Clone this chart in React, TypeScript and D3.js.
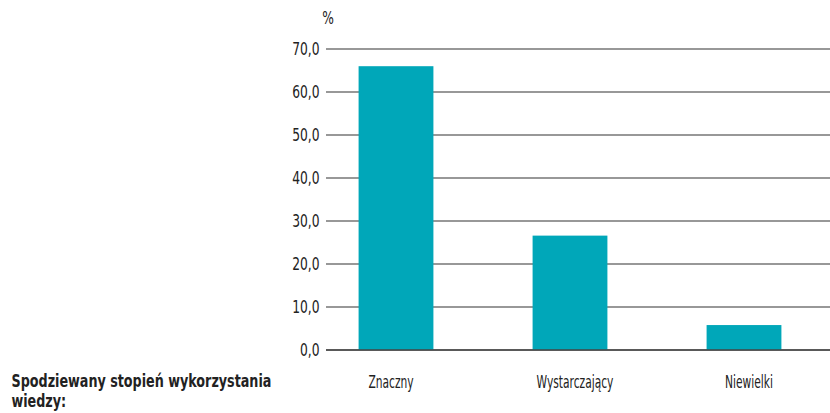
import React from "react";
import * as d3 from "d3";

const categories = ["Znaczny", "Wystarczający", "Niewielki"];
const values = [66.0, 26.6, 5.8];
const yTicks = [0, 10, 20, 30, 40, 50, 60, 70];
const titleLines = ["Spodziewany stopień wykorzystania", "wiedzy:"];
const unitLabel = "%";

const W = 830;
const H = 413;
const FONT = "'DejaVu Sans Condensed', 'Liberation Sans Narrow', sans-serif";
const labelShift = [-5, 5, 5];

export default function App() {
  const y = d3.scaleLinear().domain([0, 70]).range([350, 49]);
  const x = d3
    .scaleBand<string>()
    .domain(categories)
    .range([309, 831])
    .paddingInner(0.57)
    .paddingOuter(0.285);
  const gridX1 = 326;
  const fmt = (v: number) => v.toFixed(1).replace(".", ",");

  return (
    <svg
      width={W}
      height={H}
      style={{ position: "absolute", left: 0, top: 0, background: "#fff" }}
      fontFamily={FONT}
    >
      <rect width={W} height={H} fill="#fff" />
      {yTicks.map((t) => (
        <g key={t}>
          <line
            x1={gridX1}
            x2={W}
            y1={y(t)}
            y2={y(t)}
            stroke="#333"
            strokeWidth={1.2}
          />
          <text
            transform={`translate(319.5,${y(t) + 6}) scale(0.78,1)`}
            textAnchor="end"
            fontSize={17.5}
            fill="#222"
          >
            {fmt(t)}
          </text>
        </g>
      ))}
      {categories.map((c, i) => (
        <rect
          key={c}
          x={x(c)}
          y={y(values[i])}
          width={x.bandwidth()}
          height={y(0) - y(values[i])}
          fill="#00a7b9"
        />
      ))}
      <line x1={gridX1} x2={W} y1={y(0)} y2={y(0)} stroke="#444" strokeWidth={1.6} />
      {categories.map((c, i) => (
        <text
          key={c}
          transform={`translate(${(x(c) as number) + x.bandwidth() / 2 + labelShift[i]},387.5) scale(0.66,1)`}
          textAnchor="middle"
          fontSize={18}
          fill="#222"
        >
          {c}
        </text>
      ))}
      <text transform="translate(328,24) scale(0.8,1)" textAnchor="middle" fontSize={17} fill="#222">
        {unitLabel}
      </text>
      {titleLines.map((l, i) => (
        <text
          key={i}
          transform={`translate(11.5,${387 + i * 19.5}) scale(0.765,1)`}
          fontSize={18.5}
          fontWeight="bold"
          fill="#222"
        >
          {l}
        </text>
      ))}
    </svg>
  );
}
